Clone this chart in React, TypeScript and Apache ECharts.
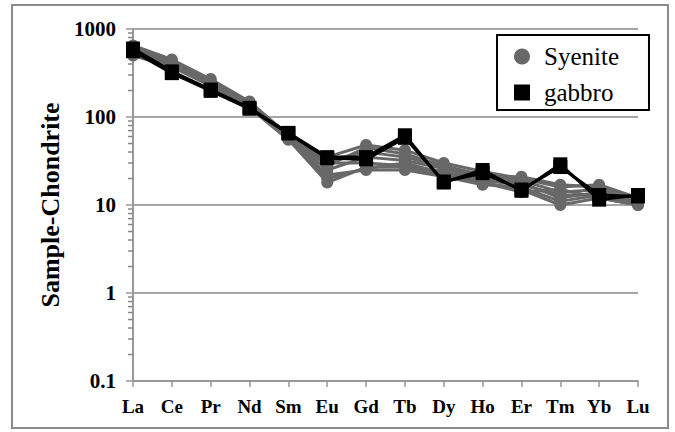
import React, { useEffect, useRef } from "react";
import * as echarts from "echarts";

const elements = ["La", "Ce", "Pr", "Nd", "Sm", "Eu", "Gd", "Tb", "Dy", "Ho", "Er", "Tm", "Yb", "Lu"];

const syenite1 = [650, 450, 270, 150, 62, 35, 48, 42, 30, 24, 20, 16, 17, 12];
const syenite2 = [600, 420, 250, 140, 60, 28, 45, 38, 28, 22, 19, 14, 15, 11];
const syenite3 = [560, 400, 240, 135, 58, 25, 35, 32, 26, 20, 18, 12, 14, 11];
const syenite4 = [520, 380, 230, 130, 56, 18, 27, 27, 22, 18, 15, 10, 12, 10];
const syenite5 = [580, 410, 245, 138, 60, 30, 30, 28, 24, 19, 17, 13, 13, 11];
const syenite6 = [540, 390, 235, 132, 57, 22, 25, 25, 21, 17, 16, 11, 13, 10.5];
const syenite7 = [620, 430, 260, 145, 63, 32, 40, 35, 27, 21, 21, 17, 16, 12];
const syenite8 = [500, 370, 225, 128, 55, 20, 26, 30, 23, 18, 14, 15, 12, 10];

const gabbro1 = [600, 330, 205, 127, 66, 35, 35, 62, 18, 25, 14.5, 29, 11.5, 13];
const gabbro2 = [560, 315, 198, 124, 65, 34, 33, 58, 18.5, 23, 15, 27, 13, 12.5];

const yTicks = [0.1, 1, 10, 100, 1000];

const syeniteSets = [syenite1, syenite2, syenite3, syenite4, syenite5, syenite6, syenite7, syenite8];
const gabbroSets = [gabbro1, gabbro2];

const SERIF = "serif";

export default function App() {
  const ref = useRef<HTMLDivElement>(null);
  useEffect(() => {
    if (!ref.current) return;
    const chart = echarts.init(ref.current, null, { renderer: "svg" });

    const minorVals: number[] = [];
    for (let d = 0; d < yTicks.length - 1; d++) {
      for (let m = 2; m <= 9; m++) minorVals.push(yTicks[d] * m);
    }

    const syeniteSeries = syeniteSets.map((s) => ({
      name: "Syenite",
      type: "line",
      data: s,
      symbol: "circle",
      symbolSize: 12,
      lineStyle: { color: "#686868", width: 3 },
      itemStyle: { color: "#686868" },
      z: 2,
    }));
    const gabbroSeries = gabbroSets.map((s) => ({
      name: "gabbro",
      type: "line",
      data: s,
      symbol: "rect",
      symbolSize: 14,
      lineStyle: { color: "#000", width: 3 },
      itemStyle: { color: "#000" },
      z: 3,
    }));

    chart.setOption({
      animation: false,
      backgroundColor: "#fff",
      grid: { left: 133, right: 37, top: 29, bottom: 51 },
      legend: {
        orient: "vertical",
        left: 497,
        top: 35,
        data: [
          { name: "Syenite", icon: "circle" },
          { name: "gabbro", icon: "rect" },
        ],
        itemWidth: 16,
        itemHeight: 16,
        itemGap: 11,
        padding: [9, 30, 5, 17],
        borderColor: "#000",
        borderWidth: 2,
        backgroundColor: "#fff",
        textStyle: { fontFamily: SERIF, fontSize: 25, color: "#000", padding: [0, 0, 0, 9] },
      },
      xAxis: {
        type: "category",
        data: elements,
        boundaryGap: false,
        axisLine: { lineStyle: { color: "#999", width: 2 } },
        axisTick: { alignWithLabel: true, length: 6, lineStyle: { color: "#999", width: 1.5 } },
        axisLabel: { color: "#000", fontFamily: SERIF, fontWeight: "bold", fontSize: 19, margin: 16, interval: 0 },
        splitLine: { show: false },
      },
      yAxis: {
        type: "log",
        logBase: 10,
        min: 0.1,
        max: 1000,
        name: "Sample-Chondrite",
        nameLocation: "middle",
        nameGap: 66,
        nameTextStyle: { fontFamily: SERIF, fontWeight: "bold", fontSize: 26, color: "#000" },
        axisLine: { show: true, lineStyle: { color: "#999", width: 2 } },
        axisTick: { show: true, length: 7, lineStyle: { color: "#999", width: 1.5 } },
        axisLabel: {
          color: "#000",
          fontFamily: SERIF,
          fontWeight: "bold",
          fontSize: 21,
          margin: 17,
          formatter: (v: number) => String(Number(v.toPrecision(3))),
        },
        splitLine: { show: true, lineStyle: { color: "#a6a6a6", width: 2 } },
      },
      graphic: [
        {
          type: "rect",
          shape: { x: 12, y: 5, width: 656, height: 423 },
          style: { fill: "none", stroke: "#8c8c8c", lineWidth: 2 },
          z: -1,
        },
      ],
      series: [
        {
          type: "custom",
          name: "minorTicks",
          data: minorVals.map((v) => [0, v]),
          silent: true,
          clip: false,
          z: 1,
          renderItem: (params: any, api: any) => {
            const p = api.coord([api.value(0), api.value(1)]);
            return {
              type: "line",
              shape: { x1: p[0] - 5, y1: p[1], x2: p[0], y2: p[1] },
              style: { stroke: "#888", lineWidth: 1.5 },
            };
          },
        },
        ...syeniteSeries,
        ...gabbroSeries,
      ],
    });
    return () => chart.dispose();
  }, []);
  return <div ref={ref} style={{ position: "fixed", left: 0, top: 0, width: 675, height: 432 }} />;
}
